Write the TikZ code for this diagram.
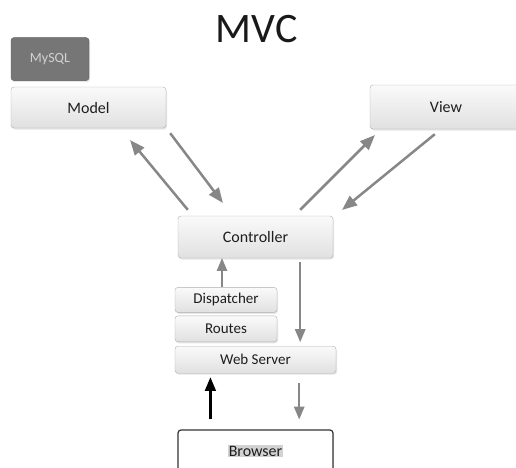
\documentclass[tikz,border=0pt]{standalone}
\usepackage{fontspec}
\setmainfont{Carlito}
\usetikzlibrary{positioning}
\usetikzlibrary{arrows}
\usetikzlibrary{shadows}

\definecolor{boxline}{RGB}{175,175,175}
\definecolor{arrowgray}{RGB}{135,135,135}
\definecolor{textgray}{RGB}{30,30,30}
\definecolor{dbgray}{RGB}{118,118,118}

\begin{document}
\begin{tikzpicture}[x=1pt,y=-1pt,
	plain/.style={rounded corners=3pt, inner sep=0pt, font=\fontsize{16}{18}\selectfont,
		drop shadow={opacity=0.2,shadow xshift=1pt,shadow yshift=-1.5pt}},
	box/.style={plain, draw=boxline, top color=gray!4, bottom color=gray!24, text=textgray,
		minimum width=155pt, minimum height=42pt},
	small/.style={box, minimum width=102pt, minimum height=25pt, font=\fontsize{15}{17}\selectfont},
	arr/.style={-triangle 45, draw=arrowgray, line width=2.5pt}]
	\useasboundingbox (0,0) rectangle (516,467);
	\clip (0,0) rectangle (516,467);

	\node (title) at (256.5,29) [font=\fontsize{42}{44}\selectfont, text=black!90] {MVC};
	\node (model) at (88.5,107.5) [box, minimum height=41pt] {Model};
	\node (mysql) [plain, draw=dbgray!80!black, fill=dbgray, text=gray!35, minimum width=78pt,
		minimum height=43pt, font=\fontsize{14}{16}\selectfont, above right=6pt and 0pt of model.north west] {MySQL};
	\node (view) at (446,107) [box, minimum width=152pt, minimum height=44pt] {View};
	\node (ctrl) at (255.5,237) [box] {Controller};
	\node (disp) [small, below right=29pt and -3pt of ctrl.south west] {Dispatcher};
	\node (routes) [small, minimum height=26pt, below=3pt of disp] {Routes};
	\node (web) [small, minimum width=161pt, minimum height=27pt, below right=4pt and 0pt of routes.south west] {Web Server};
	\node (brw) [plain, draw=black!80, fill=white, line width=1.2pt, text=textgray, minimum width=155pt,
		minimum height=42pt, below=56pt of web] {\fboxsep=1pt\colorbox{gray!35}{Browser}};

	% model <-> controller
	\draw [arr] ([shift={(10,-6)}]ctrl.north west) -- ([shift={(-36,12)}]model.south east);
	\draw [arr] ([shift={(4,5)}]model.south east) -- ([shift={(45,-13)}]ctrl.north west);
	% view <-> controller
	\draw [arr] ([shift={(-33,-6)}]ctrl.north east) -- ([shift={(5,6)}]view.south west);
	\draw [arr] ([shift={(65,5)}]view.south west) -- ([shift={(9,-6)}]ctrl.north east);
	% request / response
	\draw [arr, line width=2pt] ([xshift=-4]disp.north) -- ([xshift=-4]disp.north |- ctrl.south);
	\draw [arr, line width=2pt, shorten >=4pt] ([shift={(-33,4)}]ctrl.south east) -- ([xshift=-33]ctrl.south east |- web.north);
	\draw [-triangle 45, line width=2.2pt, black, shorten >=4pt] ([shift={(33,-10)}]brw.north west) -- ([xshift=33]brw.north west |- web.south);
	\draw [arr, line width=2pt, shorten >=10pt] ([shift={(-37,10)}]web.south east) -- ([xshift=-37]web.south east |- brw.north);
\end{tikzpicture}
\end{document}
